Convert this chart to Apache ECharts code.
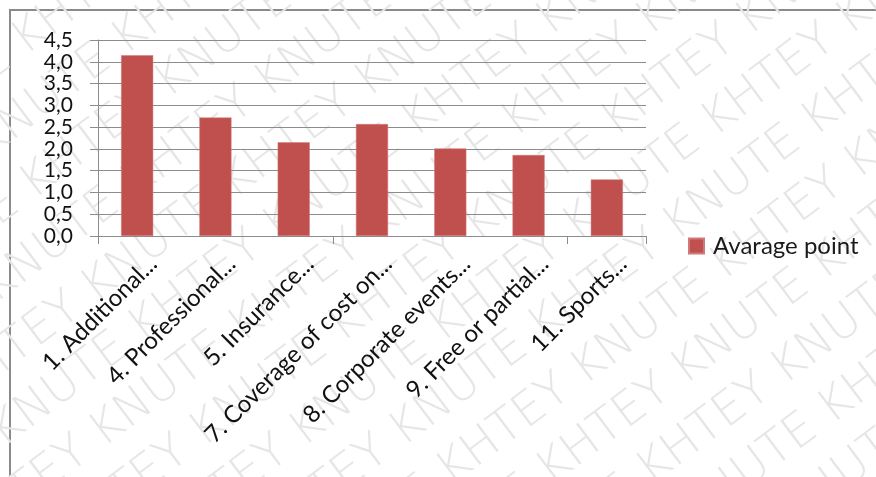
<!DOCTYPE html>
<html>
<head>
<meta charset="utf-8">
<script src="https://cdn.jsdelivr.net/npm/echarts@6/dist/echarts.min.js"></script>
<style>
  html, body { margin: 0; padding: 0; background: #fff; }
  #chart { width: 876px; height: 477px; }
</style>
</head>
<body>
<div id="chart"></div>
<script>
// Benefit items and their average scores
const categories = [
  '1. Additional...',
  '4. Professional...',
  '5. Insurance...',
  '7. Coverage of cost on...',
  '8. Corporate events...',
  '9. Free or partial...',
  '11. Sports...'
];
const averagePoint = [4.15, 2.72, 2.15, 2.57, 2.01, 1.86, 1.30];
const seriesName = 'Avarage point';
const yMin = 0, yMax = 4.5, yStep = 0.5;
const watermarkWord = 'KHTEY KNUTE ';

const chart = echarts.init(document.getElementById('chart'), null, { renderer: 'canvas' });

// Diagonal repeated watermark rows behind the plot
function watermarkRows() {
  const rows = [];
  const line = watermarkWord.repeat(12);
  for (let i = -12; i <= 12; i++) {
    rows.push({
      type: 'text',
      x: -1000 + (i % 3) * 80,
      y: i * 60,
      style: {
        text: line,
        fill: '#e6e6e6',
        font: '200 47px "DejaVu Sans"'
      },
      silent: true
    });
  }
  return rows;
}

const FONT = 'Lato';
const gridLeft = 98, gridRight = 230, gridTop = 40, gridBottom = 241;

chart.setOption({
  backgroundColor: '#fff',
  animation: false,
  graphic: [
    {
      type: 'group',
      x: 300,
      y: 330,
      rotation: 37 * Math.PI / 180,
      z: -10,
      silent: true,
      children: watermarkRows()
    },
    {
      type: 'rect',
      z: -5,
      silent: true,
      shape: { x: 10, y: 10, width: 900, height: 500 },
      style: { fill: 'none', stroke: '#8a8a8a', lineWidth: 2 }
    }
  ],
  legend: {
    left: 688,
    top: 234,
    padding: 0,
    orient: 'vertical',
    icon: 'rect',
    itemWidth: 15,
    itemHeight: 15,
    textStyle: { fontFamily: FONT, fontSize: 24, color: '#1a1a1a', padding: [0, 0, 0, 4] },
    data: [seriesName]
  },
  grid: [
    { left: gridLeft, right: gridRight, top: gridTop, bottom: gridBottom, containLabel: false },
    // label lane for the rotated category names, nudged to sit right of each bar
    { left: gridLeft + 16, right: gridRight - 16, top: gridTop, bottom: gridBottom, containLabel: false }
  ],
  xAxis: [
    {
      type: 'category',
      gridIndex: 0,
      data: categories,
      boundaryGap: true,
      axisLine: { show: true, lineStyle: { color: '#8c8c8c', width: 1 } },
      axisTick: { show: true, length: 8, inside: false, alignWithLabel: false, lineStyle: { color: '#8c8c8c' } },
      axisLabel: { show: false },
      splitLine: { show: false }
    },
    {
      type: 'category',
      gridIndex: 1,
      data: categories,
      boundaryGap: true,
      axisLine: { show: false },
      axisTick: { show: false },
      splitLine: { show: false },
      axisLabel: {
        show: true,
        interval: 0,
        rotate: 45,
        margin: 24,
        fontFamily: FONT,
        fontSize: 24,
        color: '#111'
      }
    }
  ],
  yAxis: [
    {
      type: 'value',
      gridIndex: 0,
      min: yMin,
      max: yMax,
      interval: yStep,
      axisLine: { show: true, lineStyle: { color: '#8c8c8c', width: 1 } },
      axisTick: { show: true, length: 8, lineStyle: { color: '#8c8c8c' } },
      splitLine: { show: true, lineStyle: { color: '#8c8c8c', width: 1 } },
      axisLabel: {
        margin: 25,
        fontFamily: FONT,
        fontSize: 21,
        lineHeight: 20,
        color: '#111',
        showMinLabel: true,
        showMaxLabel: true,
        hideOverlap: false,
        formatter: v => v.toFixed(1).replace('.', ',')
      }
    },
    {
      type: 'value',
      gridIndex: 1,
      min: yMin,
      max: yMax,
      show: false
    }
  ],
  series: [
    {
      name: seriesName,
      type: 'bar',
      xAxisIndex: 0,
      yAxisIndex: 0,
      data: averagePoint,
      barWidth: '41%',
      itemStyle: { color: '#c0504d', borderColor: '#d07a78', borderWidth: 0.5 },
      z: 3
    }
  ]
});
</script>
</body>
</html>
